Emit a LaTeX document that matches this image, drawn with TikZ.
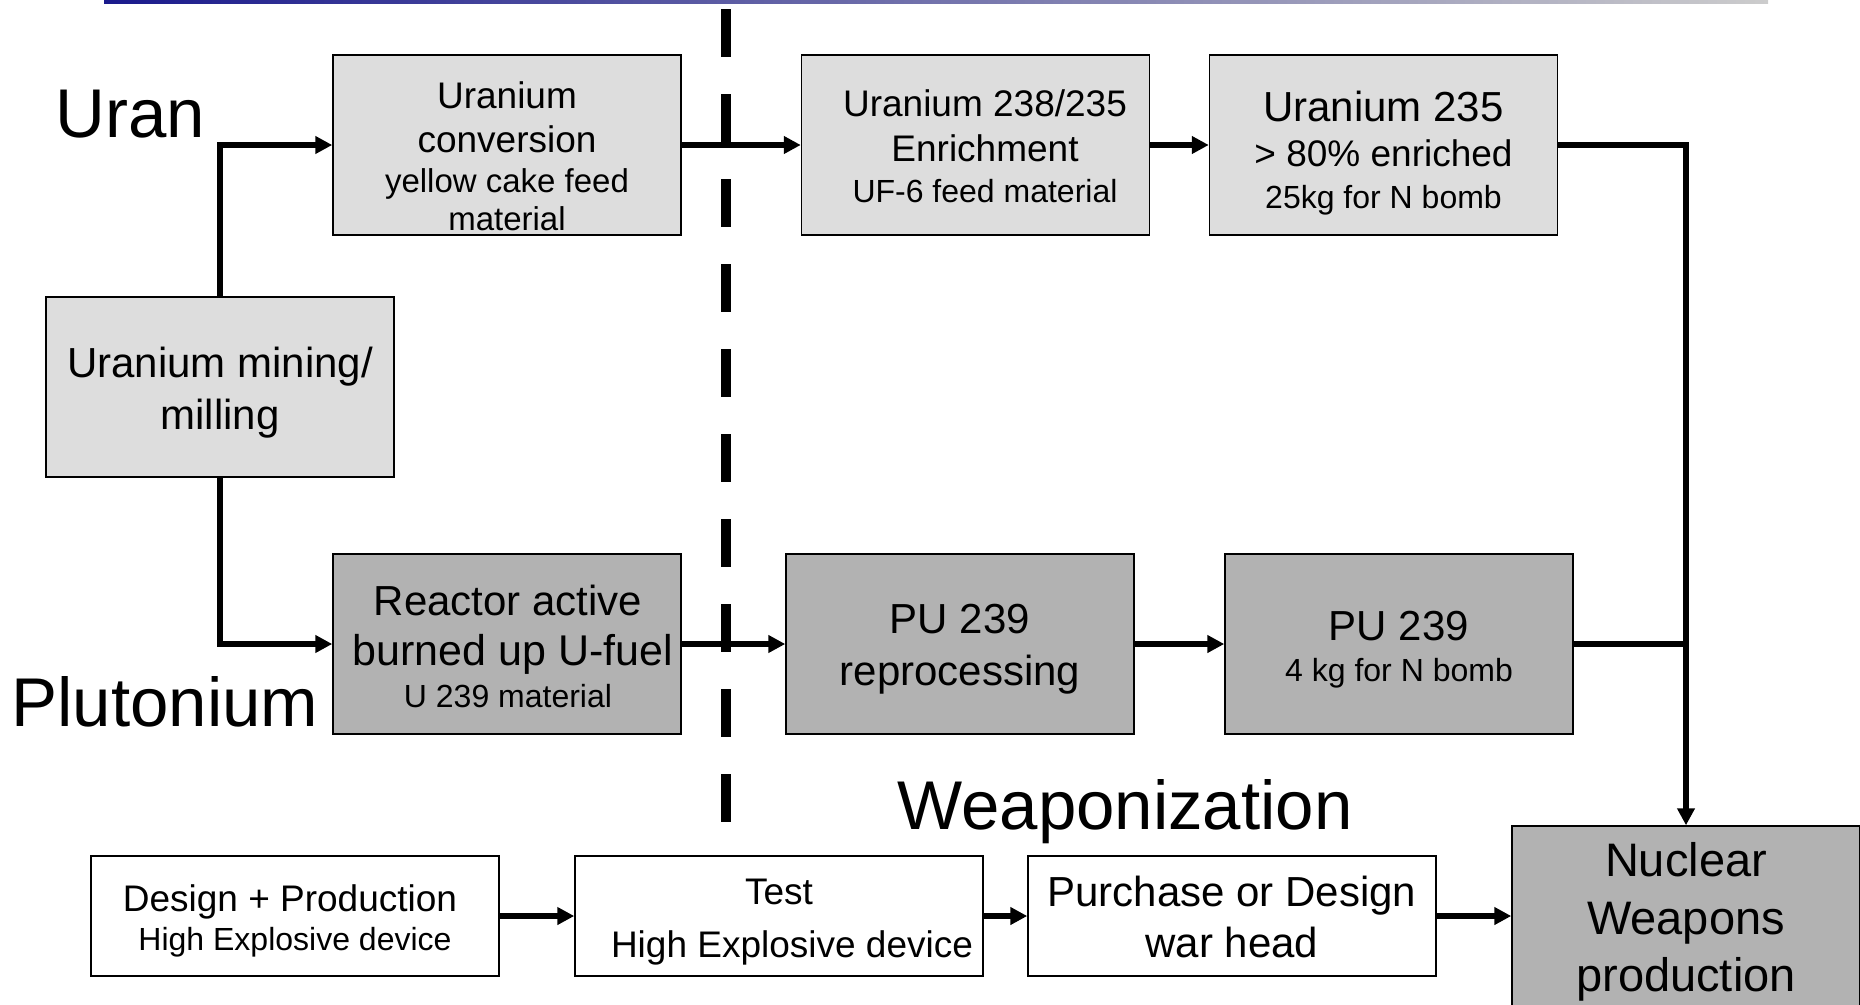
\documentclass[tikz,border=0pt]{standalone}
\usepackage{fontspec}
\setmainfont{Liberation Sans}
\usetikzlibrary{arrows.meta}
\newcommand\fsz[2]{\fontsize{#1}{#2}\selectfont}
\definecolor{lightbox}{HTML}{DDDDDD}
\definecolor{darkbox}{HTML}{B2B2B2}
\definecolor{navyline}{HTML}{1A1A8C}
\definecolor{greyline}{HTML}{CCCCCC}
\begin{document}
\begin{tikzpicture}[x=1pt,y=-1pt,
  box/.style={draw=black,line width=1.5pt,inner sep=0pt,minimum width=348pt,minimum height=180pt},
  lbox/.style={box,fill=lightbox},
  dbox/.style={box,fill=darkbox},
  wbox/.style={box,fill=white,minimum width=408pt,minimum height=120pt},
  txt/.style={align=center,inner sep=0pt,text=black},
  title/.style={inner sep=0pt,anchor=base,font=\fsz{69}{80}},
  conn/.style={line width=5.5pt},
  arr/.style={conn,-{Triangle[length=17pt,width=17pt]}},
  divider/.style={line width=10pt,dash pattern=on 48pt off 37pt}]
\useasboundingbox (0,0) rectangle (1860,1004);
\fill[left color=navyline,right color=greyline] (104,0) rectangle (1768,3);
% divider
\coordinate (dtop) at (726,9);
\coordinate (dbot) at (726,822);
\draw[divider] (dtop) -- (dbot);
% boxes
\node[lbox] (b1) at (507,145) {};
\node[lbox] (b2) at (975.5,145) {};
\node[lbox] (b3) at (1383.5,145) {};
\node[lbox] (b4) at (220,387) {};
\node[dbox] (b5) at (507,644) {};
\node[dbox] (b6) at (960,644) {};
\node[dbox] (b7) at (1399,644) {};
\node[wbox] (b8) at (295,916) {};
\node[wbox] (b9) at (779,916) {};
\node[wbox] (b10) at (1232,916) {};
\node[dbox] (b11) at (1686,916) {};
% texts
\node[txt,font=\fsz{37}{38}] (t1) at (507,156) {Uranium\\[6pt]conversion\\[2pt]{\fsz{33}{38}yellow cake feed}\\{\fsz{33}{38}material}};
\node[txt,font=\fsz{37}{41}] (t2) at (985,146) {Uranium 238/235\\[4pt]Enrichment\\{\fsz{32}{41}UF-6 feed material}};
\node[txt,font=\fsz{42}{42}] (t3) at (1383.5,153) {Uranium 235\\[3pt]{\fsz{37}{42}> 80\% enriched}\\{\fsz{32}{42}25kg for N bomb}};
\node[txt,font=\fsz{42}{52}] (t4) at (220,393) {Uranium mining/\\milling};
\node[txt,font=\fsz{42}{42}] (t5) at (508,646) {Reactor active\\[8pt]\hspace*{10pt}{\fsz{43}{42}burned up U-fuel}\\{\fsz{32}{42}U 239 material}};
\node[txt,font=\fsz{42}{52}] (t6) at (960,649) {PU 239\\reprocessing};
\node[txt,font=\fsz{42}{41}] (t7) at (1399,650) {PU 239\\{\fsz{32}{41}4 kg for N bomb}};
\node[txt,font=\fsz{37}{39}] (t8) at (295,921) {Design + Production\hspace*{10pt}\\{\fsz{32}{39}High Explosive device}};
\node[txt,font=\fsz{37}{53}] (t9) at (779,922) {Test\\\hspace*{26pt}High Explosive device};
\node[txt,font=\fsz{42}{51}] (t10) at (1232,917) {Purchase or Design\\war head};
\node[txt,font=\fsz{47}{57.5}] (t11) at (1686,922) {Nuclear\\Weapons\\production};
% titles
\node[title] (uran) at (130,137) {Uran};
\node[title] (pluto) at (165,726) {Plutonium};
\node[title] (weap) at (1125,829) {Weaponization};
% connectors
\draw[arr] (b4.north) |- (b1.west);
\draw[arr] (b4.south) |- (b5.west);
\draw[arr] (b1.east) -- (b2.west);
\draw[arr] (b2.east) -- (b3.west);
\draw[arr] (b3.east) -| (b11.north);
\draw[arr] (b5.east) -- (b6.west);
\draw[arr] (b6.east) -- (b7.west);
\draw[conn] (b7.east) -- (b7.east -| b11.north);
\draw[arr] (b8.east) -- (b9.west);
\draw[arr] (b9.east) -- (b10.west);
\draw[arr] (b10.east) -- (b11.west);
\end{tikzpicture}
\end{document}
